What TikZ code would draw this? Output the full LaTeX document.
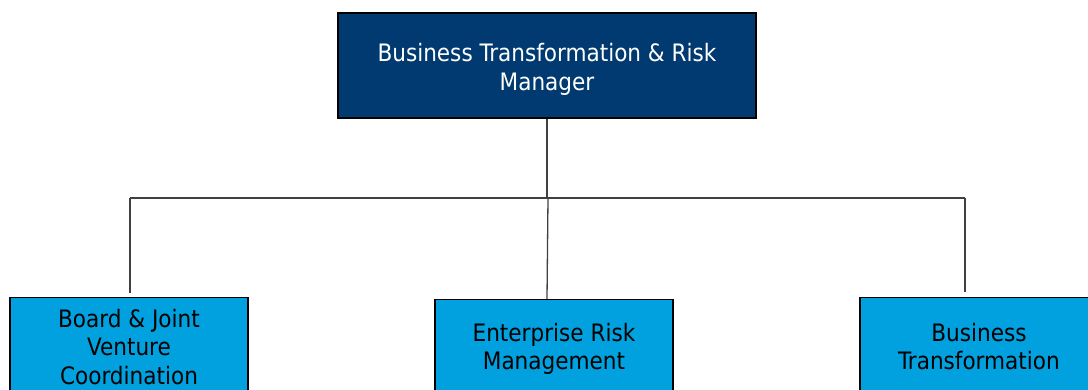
\documentclass[tikz,border=0pt]{standalone}
\usepackage{fontspec}
\setmainfont{DejaVu Sans Condensed}
\usepackage{tikz}
\usetikzlibrary{positioning, calc}
\definecolor{NavyBlue}{HTML}{003A70}
\definecolor{SkyBlue}{HTML}{00A1DE}
\definecolor{linkgray}{HTML}{404040}

\begin{document}
\begin{tikzpicture}[x=1pt, y=-1pt,
        box/.style={draw=black, line width=1.5pt, align=center, font=\fontsize{24}{28.5}\selectfont, inner sep=0pt},
        headbox/.style={box, fill=NavyBlue, text=white, minimum width=418pt, minimum height=105pt},
        unitbox/.style={box, fill=SkyBlue, text=black, minimum width=238pt, minimum height=98pt, anchor=north},
        link/.style={draw=linkgray, line width=1.3pt}]
        \useasboundingbox (0,0) rectangle (1088,390);
        \clip (0,0) rectangle (1088,390);
        % Manager
        \node [headbox] (head) at (547,65.5) {\rule{0pt}{26pt}Business Transformation \& Risk\\Manager};
        % Units
        \node [unitbox] (board) at (129,297) {Board \& Joint\\Venture\\Coordination};
        \node [unitbox] (erm) at (554,299) {Enterprise Risk\\Management};
        \node [unitbox] (trans) at (979,297) {Business\\Transformation};
        % Bus line
        \coordinate (busL) at (130,198);
        \coordinate (busR) at (965,198);
        \draw [link] (head.south) -- (head.south |- busL);
        \draw [link] (busL) -- (busR);
        % Drops to the units
        \draw [link, shorten >=4pt] (busL) -- (busL |- board.north);
        \draw [link] ($(head.south |- busL)+(1,0)$) -- (erm.north -| head.south);
        \draw [link, shorten >=5pt] (busR) -- (busR |- trans.north);
    \end{tikzpicture}
\end{document}
